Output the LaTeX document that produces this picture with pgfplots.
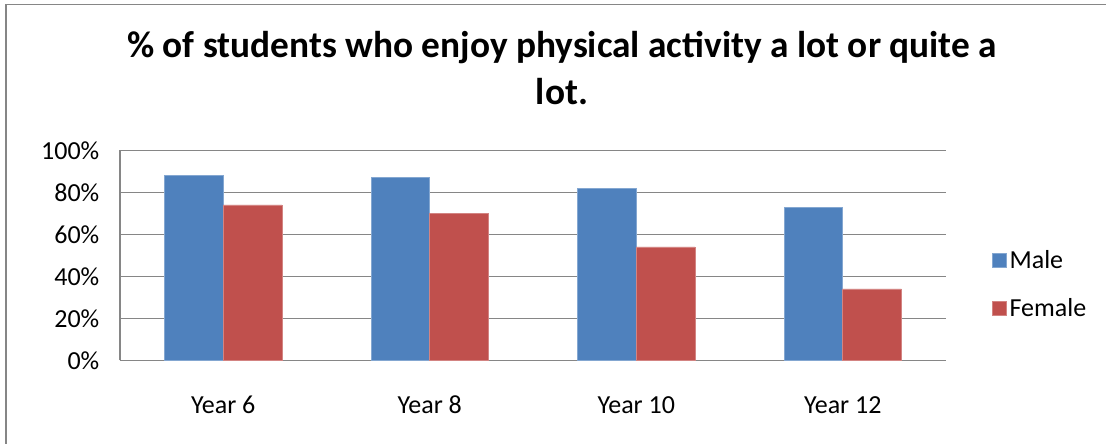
\documentclass[border=0pt]{standalone}
\usepackage{fontspec}
\setmainfont{Carlito}
\usepackage{pgfplots}
\pgfplotsset{compat=1.18}

\definecolor{male}{RGB}{79,129,189}
\definecolor{female}{RGB}{192,80,77}
\definecolor{gridgray}{RGB}{134,134,134}

\pgfplotstableread{
x male female
0 88 74
1 87 70
2 82 54
3 73 34
}\shares

\begin{document}
\begin{tikzpicture}
\useasboundingbox (0pt,0pt) rectangle (829.5pt,332.25pt);
% outer chart frame (only left and top edge are inside the crop)
\draw[gridgray, line width=0.8pt] (4.5pt,-2pt) -- (4.5pt,328.9pt) -- (832pt,328.9pt);

\node[font={\fontsize{28}{33}\selectfont\bfseries}, anchor=base] at (421.5pt,288.75pt)
  {\% of students who enjoy physical activity a lot or quite a};
\node[font={\fontsize{28}{33}\selectfont\bfseries}, anchor=base] at (421.5pt,253.5pt) {lot.};

\begin{axis}[
    at={(90pt,62pt)}, anchor=south west,
    scale only axis,
    width=619.5pt, height=157.5pt,
    ybar=0pt, bar width=44pt,
    xmin=-0.5, xmax=3.5,
    ymin=0, ymax=100,
    xtick=data,
    xticklabels={Year 6, Year 8, Year 10, Year 12},
    ytick={0,20,40,60,80,100},
    yticklabel={\pgfmathprintnumber{\tick}\%},
    /pgf/number format/assume math mode=true,
    tick style={draw=none},
    ticklabel style={font=\fontsize{19.5}{23}\selectfont},
    yticklabel style={xshift=-12pt},
    xticklabel style={yshift=-19pt, text height=13pt, text depth=4pt},
    axis x line*=bottom, axis y line*=left,
    axis line style={gridgray, line width=1pt},
    ymajorgrids=true,
    grid style={gridgray, line width=1pt},
    legend style={at={(1.050,0.362)}, anchor=west, draw=none, fill=none,
        font=\fontsize{19.5}{23}\selectfont, row sep=17pt},
    legend cell align=left,
    legend image code/.code={\fill[#1] (-8.5pt,-5.5pt) rectangle (2.5pt,5.5pt);},
]
\addplot[fill=male, draw=male!70!white, line width=0.5pt] table[x=x, y=male] {\shares};
\addlegendentry{Male}
\addplot[fill=female, draw=female!70!white, line width=0.5pt] table[x=x, y=female] {\shares};
\addlegendentry{Female}
\end{axis}
\end{tikzpicture}
\end{document}
